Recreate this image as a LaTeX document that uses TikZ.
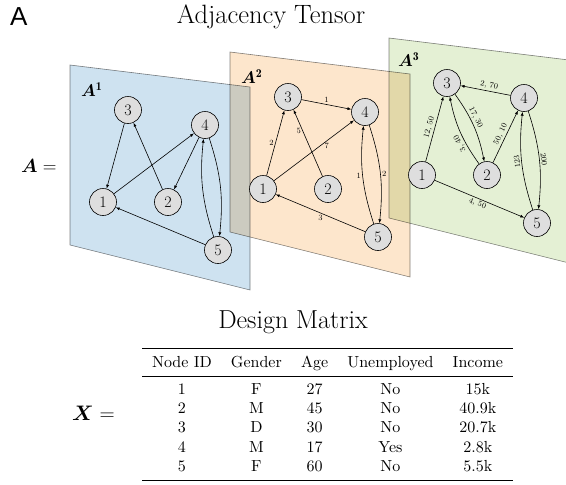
\RequirePackage{fix-cm}
\documentclass[tikz,border=0pt]{standalone}
\usepackage{amsmath,bm,booktabs,graphicx}
\usepackage{fontspec}
\newfontfamily\sanslabel{Liberation Sans}
\usetikzlibrary{arrows.meta}
\definecolor{pblue}{RGB}{206,226,240}
\definecolor{porange}{RGB}{253,230,204}
\definecolor{pgreen}{RGB}{228,240,212}
\definecolor{pborder}{RGB}{130,130,130}
\definecolor{nodefill}{RGB}{222,222,222}
\begin{document}
\begin{tikzpicture}[x=1pt,y=1pt,
  gnode/.style={circle,draw=black,fill=nodefill,minimum size=27pt,inner sep=0pt,line width=0.6pt,font=\fontsize{16}{16}\selectfont},
  edge/.style={-{Latex[length=4pt,width=3pt]},line width=0.6pt},
  elab/.style={font=\fontsize{8}{9}\selectfont,inner sep=1.5pt},
  panel/.style={draw=pborder,line width=0.6pt},
  plabel/.style={anchor=west,inner sep=0pt,font=\fontsize{17}{17}\selectfont}]
\useasboundingbox (0,0) rectangle (566,-485);

% Titles
\node[anchor=base west,inner sep=0pt] (lab) at (10,-25) {\sanslabel\fontsize{26}{26}\selectfont A};
\node[anchor=base,inner sep=0pt] (title) at (271,-23) {\fontsize{26.5}{30}\selectfont Adjacency Tensor};
\node[anchor=west,inner sep=0pt] (aeq) at (21,-166) {\fontsize{19}{22}\selectfont $\bm{A} =$};

% Panel 1
\begin{scope}[shift={(70,-65)}]
  \begin{scope}[blend mode=multiply]
  \filldraw[panel,fill=pblue] (0,0) -- (180,-22) -- (180,-225) -- (0,-180) -- cycle;
  \end{scope}
  \node[plabel] (p1) at (11,-25) {$\bm{A}^{\mathbf{1}}$};
  \node[gnode] (a3) at (58,-45) {3};
  \node[gnode] (a4) at (135,-60) {4};
  \node[gnode] (a1) at (33,-137) {1};
  \node[gnode] (a2) at (98,-137) {2};
  \node[gnode] (a5) at (148,-185) {5};
  \draw[edge] (a3) -- (a1);
  \draw[edge] (a2) -- (a3);
  \draw[edge] (a1) -- (a4);
  \draw[edge] (a4) -- (a2);
  \draw[edge] (a4) to[bend left=12] (a5);
  \draw[edge] (a5) to[bend left=12] (a4);
  \draw[edge] (a5) -- (a1);
\end{scope}

% Panel 2
\begin{scope}[shift={(230,-52)}]
  \begin{scope}[blend mode=multiply]
  \filldraw[panel,fill=porange] (0,0) -- (180,-22) -- (180,-225) -- (0,-180) -- cycle;
  \end{scope}
  \node[plabel] (p2) at (11,-25) {$\bm{A}^{\mathbf{2}}$};
  \node[gnode] (b3) at (58,-45) {3};
  \node[gnode] (b4) at (135,-60) {4};
  \node[gnode] (b1) at (33,-137) {1};
  \node[gnode] (b2) at (98,-137) {2};
  \node[gnode] (b5) at (148,-185) {5};
  \draw[edge] (b3) -- node[elab,above] {1} (b4);
  \draw[edge] (b1) -- node[elab,left] {2} (b3);
  \draw[edge] (b2) -- node[elab,left,pos=0.68] {5} (b3);
  \draw[edge] (b1) -- node[elab,below,pos=0.66] {7} (b4);
  \draw[edge] (b5) to[bend left=12] node[elab,left] {1} (b4);
  \draw[edge] (b4) to[bend left=12] node[elab,right] {2} (b5);
  \draw[edge] (b5) -- node[elab,below] {3} (b1);
\end{scope}

% Panel 3
\begin{scope}[shift={(389,-38)}]
  \begin{scope}[blend mode=multiply]
  \filldraw[panel,fill=pgreen] (0,0) -- (180,-22) -- (180,-225) -- (0,-180) -- cycle;
  \end{scope}
  \node[plabel] (p3) at (9,-22) {$\bm{A}^{\mathbf{3}}$};
  \node[gnode] (c3) at (58,-45) {3};
  \node[gnode] (c4) at (135,-60) {4};
  \node[gnode] (c1) at (33,-137) {1};
  \node[gnode] (c2) at (98,-137) {2};
  \node[gnode] (c5) at (148,-185) {5};
  \draw[edge] (c4) -- node[elab,sloped,above,pos=0.45] {2, 70} (c3);
  \draw[edge] (c3) to[bend left=12] node[elab,sloped,above,pos=0.4] {17, 30} (c2);
  \draw[edge] (c2) to[bend left=12] node[elab,sloped,above,allow upside down,pos=0.35] {3, 40} (c3);
  \draw[edge] (c1) -- node[elab,sloped,above] {12, 50} (c3);
  \draw[edge] (c2) -- node[elab,sloped,above] {50, 10} (c4);
  \draw[edge] (c5) to[bend left=12] node[elab,sloped,above,allow upside down] {123} (c4);
  \draw[edge] (c4) to[bend left=12] node[elab,sloped,above] {200} (c5);
  \draw[edge] (c1) -- node[elab,sloped,below] {4, 50} (c5);
\end{scope}

% Design matrix
\node[anchor=base,inner sep=0pt] (dm) at (293,-328) {\fontsize{26}{30}\selectfont Design Matrix};
\node[anchor=west,inner sep=0pt] (xeq) at (72,-413) {\fontsize{21}{24}\selectfont $\bm{X} =$};
\node[inner sep=0pt] (tab) at (327.5,-414.5) {\scalebox{1.6}{%
\setlength{\heavyrulewidth}{0.9pt}%
\begin{tabular}{ccccc}
\toprule
Node ID & Gender & Age & Unemployed & Income\\
\midrule
1 & F & 27 & No & 15k\\
2 & M & 45 & No & 40.9k\\
3 & D & 30 & No & 20.7k\\
4 & M & 17 & Yes & 2.8k\\
5 & F & 60 & No & 5.5k\\
\bottomrule
\end{tabular}}};
\end{tikzpicture}
\end{document}
